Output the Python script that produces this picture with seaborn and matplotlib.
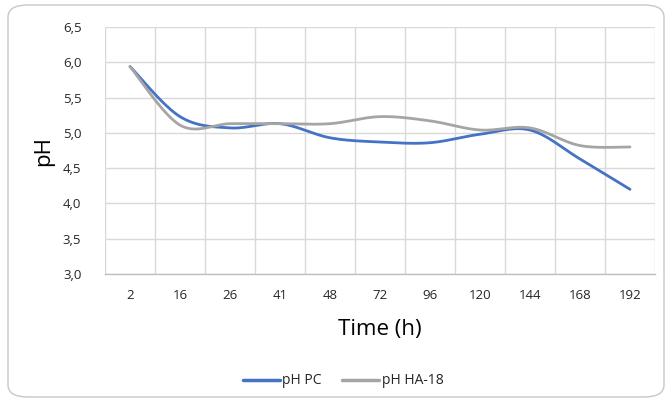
import numpy as np
import pandas as pd
import matplotlib
matplotlib.use("Agg")
import matplotlib.pyplot as plt
import seaborn as sns
from matplotlib.patches import FancyBboxPatch
from matplotlib.lines import Line2D

time_labels = ["2", "16", "26", "41", "48", "72", "96", "120", "144", "168", "192"]
ph_pc = [5.94, 5.23, 5.07, 5.13, 4.93, 4.87, 4.86, 4.98, 5.04, 4.63, 4.20]
ph_ha18 = [5.94, 5.11, 5.13, 5.13, 5.13, 5.23, 5.17, 5.04, 5.07, 4.82, 4.80]
series_names = ["pH PC", "pH HA-18"]
colors = ["#4472C4", "#A5A5A5"]
y_ticks = [3.0, 3.5, 4.0, 4.5, 5.0, 5.5, 6.0, 6.5]


def smooth(xs, ys, n=30):
    # Catmull-Rom style smoothing (like Excel's smoothed line), drawing only
    xs = np.asarray(xs, float); ys = np.asarray(ys, float)
    px = np.concatenate([[xs[0]], xs, [xs[-1]]])
    py = np.concatenate([[ys[0]], ys, [ys[-1]]])
    ox, oy = [], []
    for i in range(1, len(px) - 2):
        p0, p1, p2, p3 = (np.array([px[j], py[j]]) for j in range(i - 1, i + 3))
        c1 = p1 + (p2 - p0) / 6
        c2 = p2 - (p3 - p1) / 6
        t = np.linspace(0, 1, n)[:, None]
        b = ((1 - t) ** 3) * p1 + 3 * ((1 - t) ** 2) * t * c1 + 3 * (1 - t) * t ** 2 * c2 + t ** 3 * p2
        ox.extend(b[:, 0]); oy.extend(b[:, 1])
    return np.array(ox), np.array(oy)


sns.set_theme(style="white")
plt.rcParams['font.family'] = ['Open Sans', 'DejaVu Sans']

fig = plt.figure(figsize=(6.67, 4.03), dpi=100)
ax = fig.add_axes([105 / 667, 1 - 274 / 403, 550 / 667, 247 / 403])

idx = np.arange(len(time_labels))
frames = []
for name, vals in zip(series_names, [ph_pc, ph_ha18]):
    sx, sy = smooth(idx, vals)
    frames.append(pd.DataFrame({"x": sx, "y": sy, "series": name}))
df = pd.concat(frames, ignore_index=True)

sns.lineplot(data=df, x="x", y="y", hue="series", palette=colors, sort=False,
             estimator=None, units="series", linewidth=2.0, legend=False, ax=ax)

ax.set_xlim(-0.5, len(time_labels) - 0.5)
ax.set_ylim(3.0, 6.5)
ax.set_xticks(idx)
ax.set_xticklabels(time_labels)
ax.set_xticks(np.arange(-0.5, len(time_labels)), minor=True)
ax.set_yticks(y_ticks)
ax.set_yticklabels([f"{v:.1f}".replace(".", ",") for v in y_ticks])
ax.tick_params(axis="both", which="both", length=0, labelsize=9.5, colors="#262626")
ax.tick_params(axis="y", pad=17)
ax.tick_params(axis="x", pad=11)
ax.grid(True, which="major", axis="y", color="#d9d9d9", linewidth=1)
ax.grid(True, which="minor", axis="x", color="#d9d9d9", linewidth=1)
for s in ["top", "right", "left"]:
    ax.spines[s].set_visible(False)
ax.spines["bottom"].set_color("#bfbfbf")
ax.spines["bottom"].set_linewidth(1)
ax.set_xlabel("Time (h)", fontsize=16, color="#000000", labelpad=12)
ax.set_ylabel("pH", fontsize=16, color="#000000", labelpad=6)

handles = [Line2D([0], [0], color=c, lw=2.5) for c in colors]
fig.legend(handles, series_names, loc="center", bbox_to_anchor=(343 / 667, 1 - 381 / 403),
           ncol=2, frameon=False, fontsize=10, handlelength=2.7, handletextpad=0.15,
           columnspacing=1.45, labelcolor="#262626")

border = FancyBboxPatch((8 / 667, 6 / 403), 656 / 667, 392 / 403, transform=fig.transFigure,
                        boxstyle="round,pad=0,rounding_size=0.03", fill=False,
                        edgecolor="#c8c8c8", linewidth=1)
fig.patches.append(border)

fig.savefig("out.png", dpi=100)
